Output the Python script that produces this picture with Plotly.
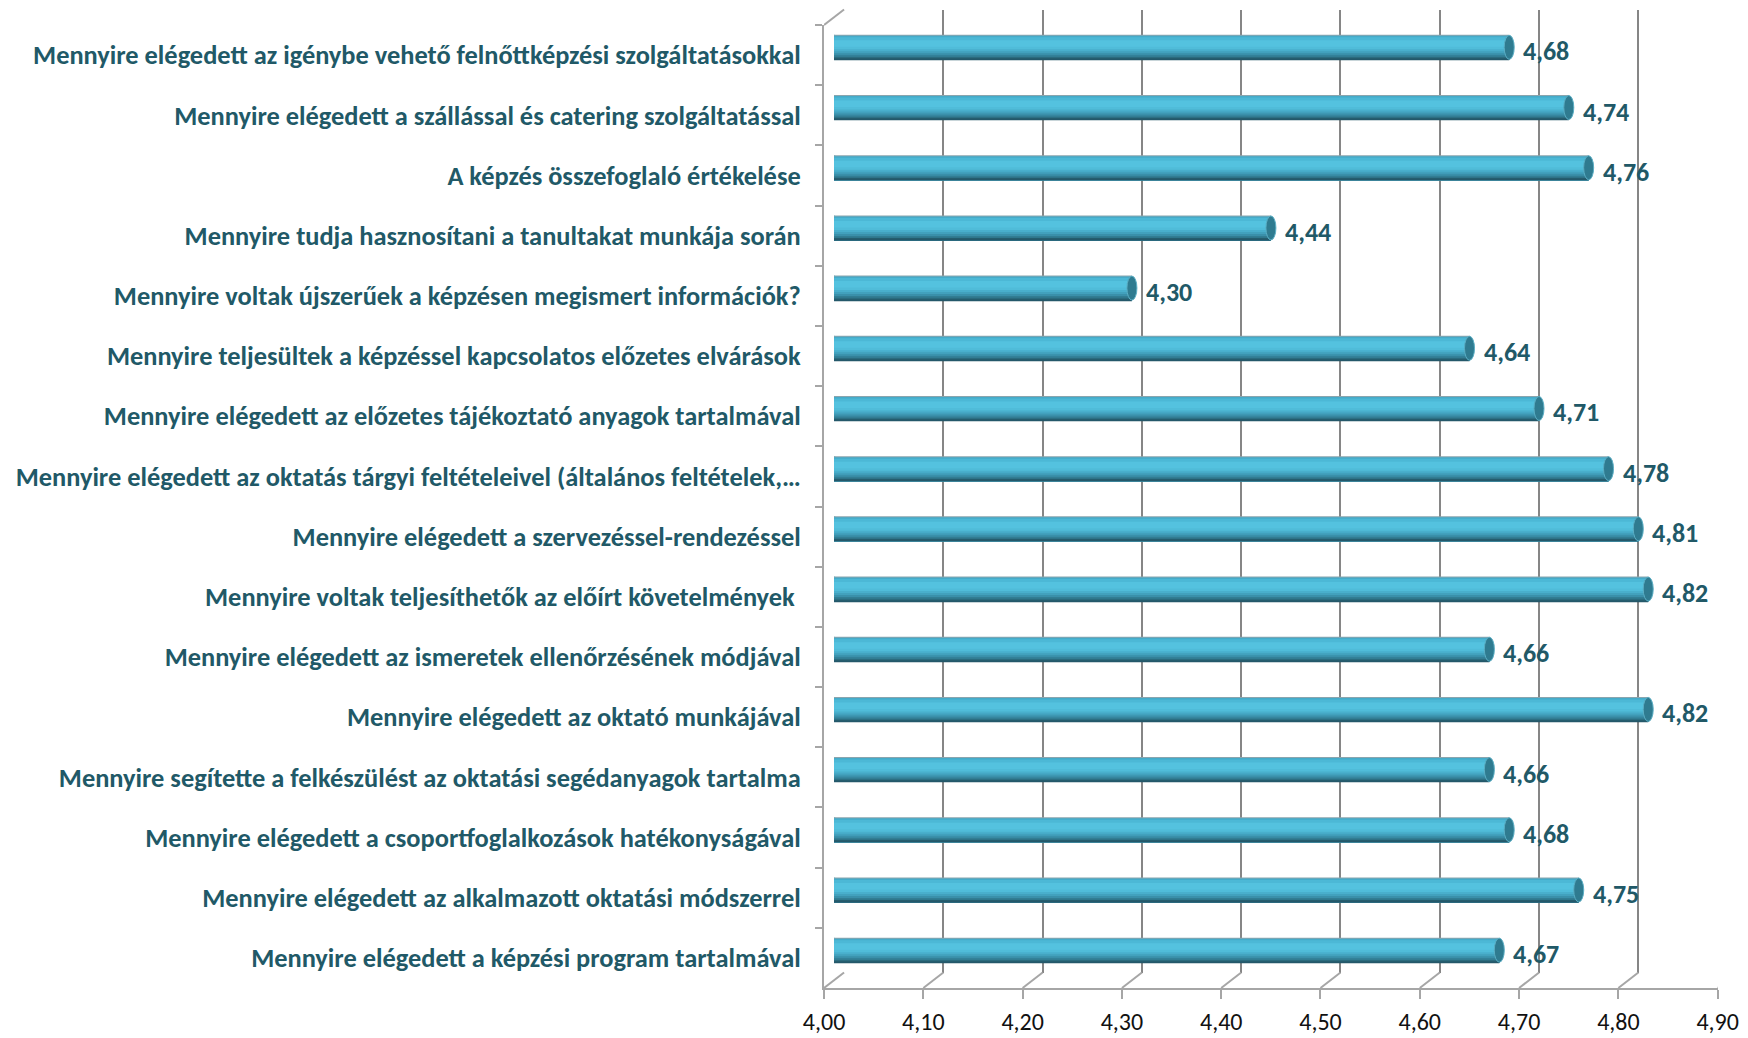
import plotly.graph_objects as go

# ---------------- data (top to bottom) ----------------
categories = [
    "Mennyire elégedett az igénybe vehető felnőttképzési szolgáltatásokkal",
    "Mennyire elégedett a szállással és catering szolgáltatással",
    "A képzés összefoglaló értékelése",
    "Mennyire tudja hasznosítani a tanultakat munkája során",
    "Mennyire voltak újszerűek a képzésen megismert információk?",
    "Mennyire teljesültek a képzéssel kapcsolatos előzetes elvárások",
    "Mennyire elégedett az előzetes tájékoztató anyagok tartalmával",
    "Mennyire elégedett az oktatás tárgyi feltételeivel (általános feltételek,…",
    "Mennyire elégedett a szervezéssel-rendezéssel",
    "Mennyire voltak teljesíthetők az előírt követelmények ",
    "Mennyire elégedett az ismeretek ellenőrzésének módjával",
    "Mennyire elégedett az oktató munkájával",
    "Mennyire segítette a felkészülést az oktatási segédanyagok tartalma",
    "Mennyire elégedett a csoportfoglalkozások hatékonyságával",
    "Mennyire elégedett az alkalmazott oktatási módszerrel",
    "Mennyire elégedett a képzési program tartalmával",
]
values = [4.68, 4.74, 4.76, 4.44, 4.30, 4.64, 4.71, 4.78,
          4.81, 4.82, 4.66, 4.82, 4.66, 4.68, 4.75, 4.67]
x_ticks = [4.0, 4.1, 4.2, 4.3, 4.4, 4.5, 4.6, 4.7, 4.8, 4.9]
x_range = [3.99995, 4.90005]

# ---------------- geometry / style ----------------
PAGE_OFF = 8                      # default body margin of the html page
W, H = 1748 - PAGE_OFF, 1038 - PAGE_OFF
def fx(p): return (p - PAGE_OFF) / W
def fy(p): return 1 - (p - PAGE_OFF) / H

DEPTH_X, DEPTH_Y = 20, 15.5
FRONT = dict(x0=824, x1=1717.7, y0=25, y1=988)
BACK = dict(x0=FRONT["x0"] + DEPTH_X, x1=FRONT["x1"] + DEPTH_X,
            y0=FRONT["y0"] - DEPTH_Y, y1=FRONT["y1"] - DEPTH_Y)
MID = dict(x0=FRONT["x0"] + DEPTH_X / 2, x1=FRONT["x1"] + DEPTH_X / 2,
           y0=FRONT["y0"] - DEPTH_Y / 2, y1=FRONT["y1"] - DEPTH_Y / 2)

LABEL_COLOR = "#215967"
GRID_COLOR = "#868686"
AXIS_COLOR = "#a6a6a6"
FONT = "Calibri, Carlito, Lato, sans-serif"

n = len(categories)
slot_px = (MID["y1"] - MID["y0"]) / n
bar_px = 25
bar_w = bar_px / slot_px

# cylinder shading stripes (start fraction from top, colour); each drawn to the bottom
stripes = [
    (0.00, "#8aa5ae"),
    (0.04, "#45abc9"),
    (0.10, "#4cb8d6"),
    (0.22, "#54c2df"),
    (0.48, "#50bcd9"),
    (0.58, "#49afcc"),
    (0.66, "#42a1bd"),
    (0.74, "#3a90aa"),
    (0.82, "#327d93"),
    (0.89, "#2b6b7e"),
    (0.95, "#24586a"),
]

fig = go.Figure()

# back wall subplot (x, y): invisible anchor trace
fig.add_trace(go.Scatter(x=[x_range[0]], y=[0], mode="markers",
                         marker=dict(opacity=0), hoverinfo="skip",
                         showlegend=False, xaxis="x", yaxis="y"))
# front plane subplot (x2, y2): invisible category trace for labels
fig.add_trace(go.Scatter(x=[x_range[0]] * n, y=categories, mode="markers",
                         marker=dict(opacity=0), hoverinfo="skip",
                         showlegend=False, xaxis="x2", yaxis="y2"))
# bars (x3, y3)
for a, col in stripes:
    fig.add_trace(go.Bar(
        x=[v - 4.0 for v in values], base=[4.0] * n, y=categories,
        orientation="h", marker=dict(color=col, line=dict(width=0)),
        width=(1 - a) * bar_w, offset=-bar_w / 2 + a * bar_w,
        hoverinfo="skip", showlegend=False, xaxis="x3", yaxis="y3"))

shapes = []
# floor depth lines and top-left depth line
for t in x_ticks:
    shapes.append(dict(type="line", xref="x2", xsizemode="pixel", xanchor=t,
                       x0=0, x1=DEPTH_X, yref="paper", ysizemode="pixel",
                       yanchor=fy(FRONT["y1"]), y0=0, y1=DEPTH_Y,
                       line=dict(color=AXIS_COLOR, width=2)))
shapes.append(dict(type="line", xref="x2", xsizemode="pixel", xanchor=x_ticks[0],
                   x0=0, x1=DEPTH_X, yref="paper", ysizemode="pixel",
                   yanchor=fy(FRONT["y0"]), y0=0, y1=DEPTH_Y,
                   line=dict(color=AXIS_COLOR, width=2)))
# bar end caps
for i, v in enumerate(values):
    shapes.append(dict(type="circle", xref="x3", xsizemode="pixel", xanchor=4.0,
                       x0=-5, x1=5, yref="y3", ysizemode="pixel", yanchor=i,
                       y0=-bar_px / 2, y1=bar_px / 2, layer="below",
                       fillcolor="#47aecb", line=dict(width=0)))
    shapes.append(dict(type="circle", xref="x3", xsizemode="pixel", xanchor=v,
                       x0=-5, x1=5, yref="y3", ysizemode="pixel", yanchor=i,
                       y0=-bar_px / 2 + 0.5, y1=bar_px / 2 - 0.5,
                       fillcolor="#2f7b90", line=dict(color="#5aaec4", width=1)))

annotations = []
for i, v in enumerate(values):
    annotations.append(dict(x=v, y=i, xref="x3", yref="y3",
                            text=f"{v:.2f}".replace(".", ","),
                            showarrow=False, xanchor="left", yanchor="middle",
                            xshift=12, yshift=-4,
                            font=dict(family=FONT, size=26, color=LABEL_COLOR,
                                      weight="bold")))

fig.update_layout(
    width=W, height=H,
    margin=dict(l=0, r=0, t=0, b=0, pad=0, autoexpand=False),
    paper_bgcolor="white", plot_bgcolor="rgba(0,0,0,0)",
    separators=", ",
    barmode="overlay",
    showlegend=False,
    shapes=shapes, annotations=annotations,
    xaxis=dict(domain=[fx(BACK["x0"]), fx(BACK["x1"])], range=x_range,
               anchor="y", tickmode="array", tickvals=x_ticks, automargin=False,
               showgrid=True, gridcolor=GRID_COLOR, gridwidth=2,
               showticklabels=False, ticks="", zeroline=False, showline=False),
    yaxis=dict(domain=[fy(BACK["y1"]), fy(BACK["y0"])], range=[0, 1],
               anchor="x", visible=False, automargin=False),
    xaxis2=dict(domain=[fx(FRONT["x0"]), fx(FRONT["x1"])], range=x_range,
                anchor="y2", tickmode="array", tickvals=x_ticks, automargin=False,
                tickformat=".2f", showgrid=False, zeroline=False,
                showline=True, linecolor=AXIS_COLOR, linewidth=2,
                ticks="outside", ticklen=9, tickwidth=2, tickcolor=AXIS_COLOR,
                ticklabelstandoff=2,
                tickfont=dict(family=FONT, size=24, color="#111111")),
    yaxis2=dict(domain=[fy(FRONT["y1"]), fy(FRONT["y0"])], anchor="x2",
                type="category", categoryorder="array", categoryarray=categories,
                range=[n - 0.5, -0.5], showgrid=False, zeroline=False,
                automargin=False,
                showline=True, linecolor=AXIS_COLOR, linewidth=2,
                ticks="outside", tickson="boundaries", ticklen=7, tickwidth=2,
                tickcolor=AXIS_COLOR, ticklabelstandoff=16,
                tickfont=dict(family=FONT, size=26.4, color=LABEL_COLOR,
                              weight="bold")),
    xaxis3=dict(domain=[fx(MID["x0"]), fx(MID["x1"])], range=x_range,
                anchor="y3", visible=False, automargin=False),
    yaxis3=dict(domain=[fy(MID["y1"]), fy(MID["y0"])], anchor="x3",
                type="category", categoryorder="array", categoryarray=categories,
                range=[n - 0.5, -0.5], visible=False, automargin=False),
)

fig.write_html("out.html")
